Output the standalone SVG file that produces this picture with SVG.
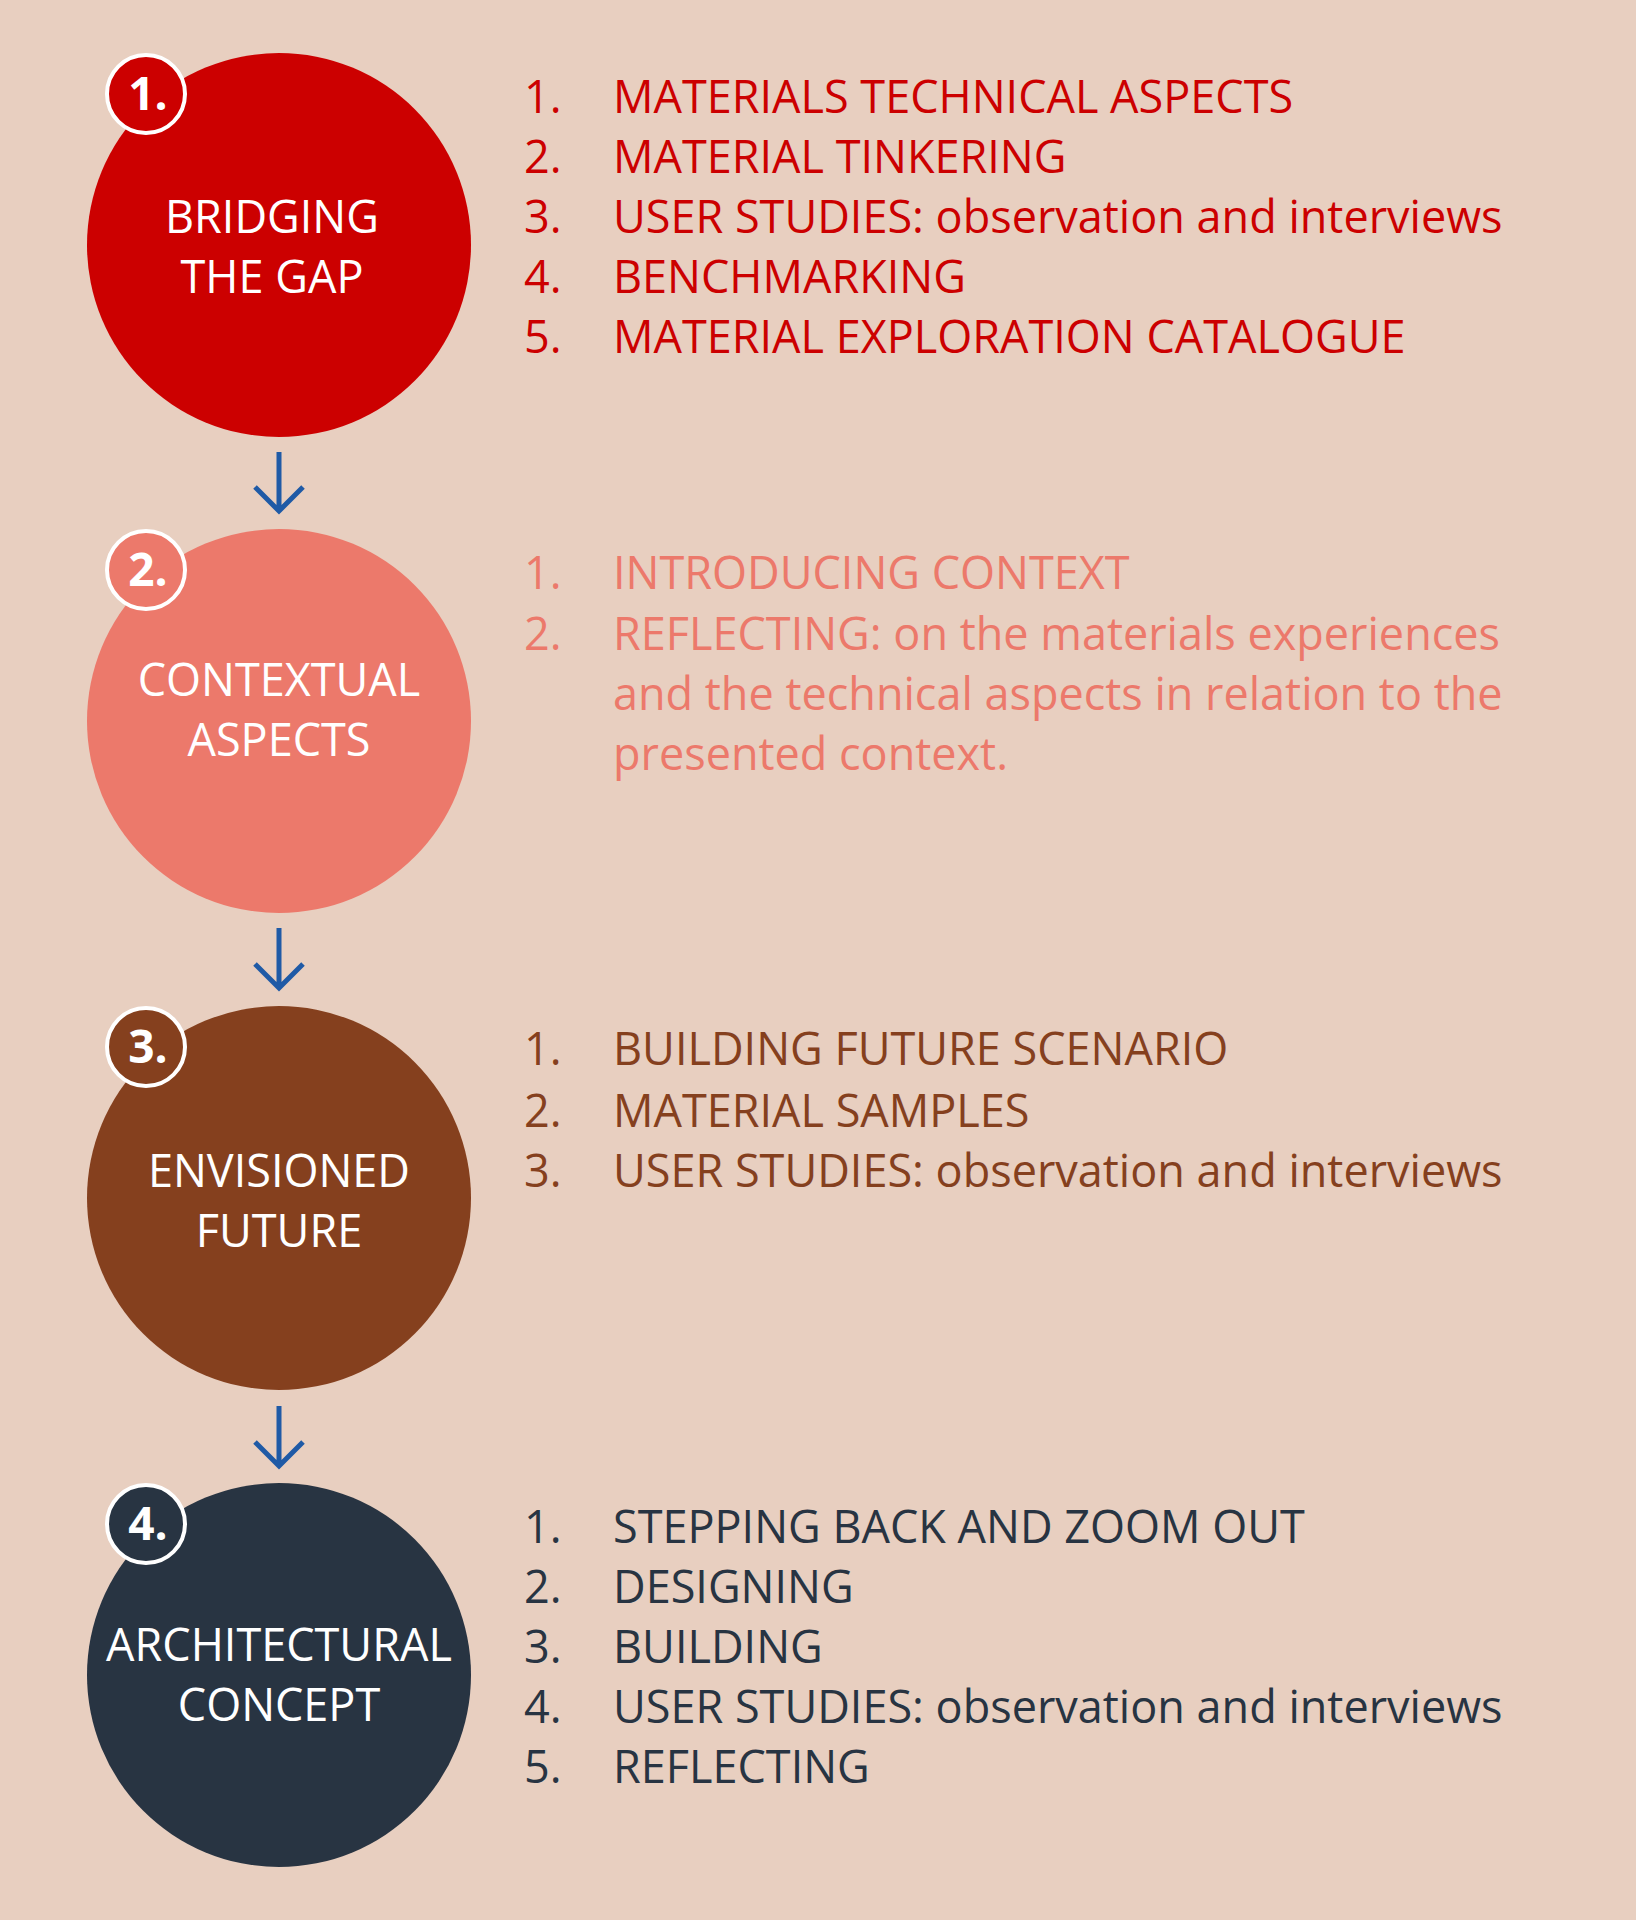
<svg xmlns="http://www.w3.org/2000/svg" width="1636" height="1920" viewBox="0 0 1636 1920">
<style>
text{font-family:"Open Sans","Liberation Sans",sans-serif;font-size:45px}
.c{fill:#fff;text-anchor:middle}
.b{fill:#fff;font-weight:bold;font-size:46px;text-anchor:middle}
.badge{stroke:#fff;stroke-width:4}
.a{fill:none;stroke:#1f5aa6;stroke-width:5}
.r{fill:#cc0000}.s{fill:#ec796b}.w{fill:#85401e}.n{fill:#283442}
</style>
<rect width="1636" height="1920" fill="#e8cfc0"/>
<g id="connectors">
<path class="a" d="M279 452V510M255 487L279 511L303 487"/>
<path class="a" d="M279 928V987M255 964L279 988L303 964"/>
<path class="a" d="M279 1406V1465M255 1442L279 1466L303 1442"/>
</g>
<g id="node1">
<circle cx="279" cy="245" r="192" fill="#cc0000"/>
<circle class="badge" cx="146" cy="94" r="39" fill="#cc0000"/>
<text class="b" x="148" y="110">1.</text>
<text class="c" x="272" y="233">BRIDGING</text>
<text class="c" x="272" y="293">THE GAP</text>
<g class="r"><text x="524" y="113">1.</text><text x="613" y="113">MATERIALS TECHNICAL ASPECTS</text>
<text x="524" y="173">2.</text><text x="613" y="173">MATERIAL TINKERING</text>
<text x="524" y="233">3.</text><text x="613" y="233">USER STUDIES: observation and interviews</text>
<text x="524" y="293">4.</text><text x="613" y="293">BENCHMARKING</text>
<text x="524" y="353">5.</text><text x="613" y="353">MATERIAL EXPLORATION CATALOGUE</text></g>
</g>
<g id="node2">
<circle cx="279" cy="721" r="192" fill="#ec796b"/>
<circle class="badge" cx="146" cy="570" r="39" fill="#ec796b"/>
<text class="b" x="148" y="586">2.</text>
<text class="c" x="279" y="696">CONTEXTUAL</text>
<text class="c" x="279" y="756">ASPECTS</text>
<g class="s"><text x="524" y="589">1.</text><text x="613" y="589">INTRODUCING CONTEXT</text>
<text x="524" y="650">2.</text><text x="613" y="650">REFLECTING: on the materials experiences</text>
<text x="613" y="710">and the technical aspects in relation to the</text>
<text x="613" y="770">presented context.</text></g>
</g>
<g id="node3">
<circle cx="279" cy="1198" r="192" fill="#85401e"/>
<circle class="badge" cx="146" cy="1047" r="39" fill="#85401e"/>
<text class="b" x="148" y="1063">3.</text>
<text class="c" x="279" y="1187">ENVISIONED</text>
<text class="c" x="279" y="1247">FUTURE</text>
<g class="w"><text x="524" y="1065">1.</text><text x="613" y="1065">BUILDING FUTURE SCENARIO</text>
<text x="524" y="1127">2.</text><text x="613" y="1127">MATERIAL SAMPLES</text>
<text x="524" y="1187">3.</text><text x="613" y="1187">USER STUDIES: observation and interviews</text></g>
</g>
<g id="node4">
<circle cx="279" cy="1675" r="192" fill="#283442"/>
<circle class="badge" cx="146" cy="1524" r="39" fill="#283442"/>
<text class="b" x="148" y="1540">4.</text>
<text class="c" x="279" y="1661">ARCHITECTURAL</text>
<text class="c" x="279" y="1721">CONCEPT</text>
<g class="n"><text x="524" y="1543">1.</text><text x="613" y="1543">STEPPING BACK AND ZOOM OUT</text>
<text x="524" y="1603">2.</text><text x="613" y="1603">DESIGNING</text>
<text x="524" y="1663">3.</text><text x="613" y="1663">BUILDING</text>
<text x="524" y="1723">4.</text><text x="613" y="1723">USER STUDIES: observation and interviews</text>
<text x="524" y="1783">5.</text><text x="613" y="1783">REFLECTING</text></g>
</g>
</svg>
